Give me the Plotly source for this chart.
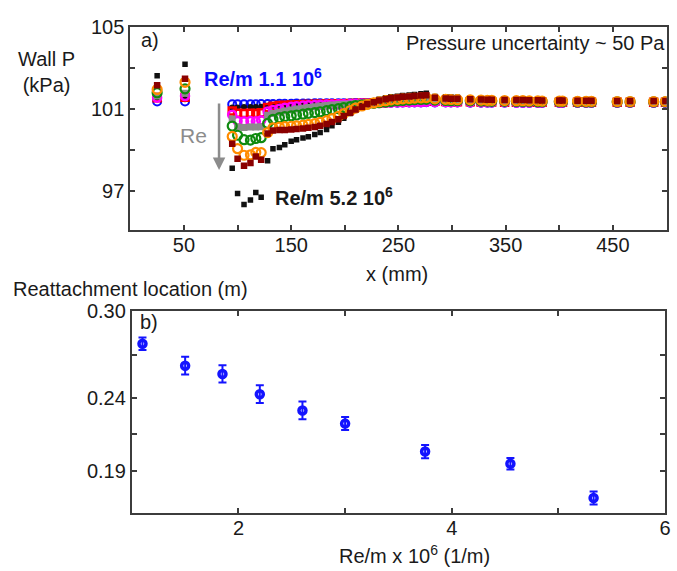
import plotly.graph_objects as go

# ---- panel a: wall pressure (kPa) vs x (mm) ----
x_up = [25, 51]
x_sep = [95, 100, 106, 112, 117, 122]
x_rec = [128, 133, 139, 144, 150, 155, 161, 166, 172, 177, 183, 188, 194, 199,
         205, 210, 216, 221, 227, 232, 238, 243, 249, 254, 260, 265, 271, 276]
x_down = [284, 294, 299, 305, 317, 327, 333, 337, 349, 360, 366, 372, 380, 384,
          400, 403, 417, 425, 430, 454, 466, 488, 499]
x_all = x_up + x_sep + x_rec + x_down

p_11 = ([101.37, 101.37] +
        [101.24, 101.24, 101.24, 101.24, 101.24, 101.25] +
        [101.25, 101.25, 101.26, 101.26, 101.26, 101.27, 101.27, 101.27, 101.28, 101.28,
         101.28, 101.28, 101.29, 101.29, 101.29, 101.3, 101.3, 101.3, 101.3, 101.31,
         101.31, 101.31, 101.31, 101.32, 101.32, 101.32, 101.32, 101.33] +
        [101.32, 101.32, 101.32, 101.32, 101.31, 101.31, 101.31, 101.31, 101.31, 101.3,
         101.3, 101.3, 101.3, 101.3, 101.3, 101.3, 101.3, 101.3, 101.3, 101.3,
         101.3, 101.3, 101.3])
p_15 = ([101.48, 101.48] +
        [101.08, 101.08, 101.1, 101.1, 101.1, 101.12] +
        [101.16, 101.2, 101.22, 101.23, 101.24, 101.25, 101.26, 101.27, 101.27, 101.28,
         101.28, 101.29, 101.29, 101.3, 101.3, 101.31, 101.31, 101.32, 101.33, 101.34,
         101.35, 101.37, 101.38, 101.4, 101.42, 101.43, 101.44, 101.45] +
        [101.42, 101.41, 101.4, 101.4, 101.39, 101.39, 101.38, 101.38, 101.37, 101.37,
         101.37, 101.36, 101.36, 101.36, 101.36, 101.35, 101.35, 101.35, 101.35, 101.35,
         101.35, 101.35, 101.35])
p_185 = ([101.55, 101.58] +
         [100.9, 100.8, 100.78, 100.8, 100.78, 100.82] +
         [101.08, 101.14, 101.17, 101.19, 101.2, 101.21, 101.22, 101.23, 101.24, 101.24,
          101.25, 101.25, 101.26, 101.26, 101.27, 101.27, 101.28, 101.29, 101.3, 101.31,
          101.32, 101.33, 101.34, 101.35, 101.36, 101.37, 101.38, 101.39] +
         [101.38, 101.37, 101.37, 101.36, 101.36, 101.35, 101.35, 101.35, 101.34, 101.34,
          101.34, 101.34, 101.33, 101.33, 101.33, 101.33, 101.33, 101.33, 101.33, 101.33,
          101.33, 101.33, 101.33])
p_22 = ([101.56, 101.64] +
        [100.72, 100.42, 100.4, 100.42, 100.4, 100.45] +
        [100.88, 100.96, 101.02, 101.07, 101.11, 101.14, 101.17, 101.19, 101.2, 101.21,
         101.22, 101.23, 101.24, 101.24, 101.25, 101.26, 101.27, 101.28, 101.29, 101.3,
         101.31, 101.32, 101.33, 101.33, 101.34, 101.35, 101.35, 101.36] +
        [101.35, 101.35, 101.34, 101.34, 101.34, 101.33, 101.33, 101.33, 101.33, 101.32,
         101.32, 101.32, 101.32, 101.32, 101.32, 101.32, 101.32, 101.32, 101.32, 101.32,
         101.32, 101.32, 101.32])
p_26 = ([101.64, 101.77] +
        [100.52, 100.14, 100.1, 100.12, 100.12, 100.14] +
        [100.7, 100.78, 100.84, 100.9, 100.95, 101.0, 101.04, 101.08, 101.12, 101.15,
         101.18, 101.2, 101.22, 101.24, 101.25, 101.27, 101.28, 101.3, 101.32, 101.34,
         101.36, 101.38, 101.4, 101.42, 101.43, 101.45, 101.46, 101.47] +
        [101.43, 101.41, 101.4, 101.4, 101.39, 101.38, 101.38, 101.37, 101.37, 101.36,
         101.36, 101.36, 101.35, 101.35, 101.35, 101.35, 101.34, 101.34, 101.34, 101.34,
         101.34, 101.34, 101.34])
p_30 = ([101.8, 101.99] +
        [100.17, 99.72, 99.5, 99.48, 99.56, 99.6] +
        [100.3, 100.5, 100.58, 100.63, 100.67, 100.71, 100.75, 100.79, 100.83, 100.87,
         100.92, 100.97, 101.02, 101.07, 101.12, 101.17, 101.21, 101.25, 101.28, 101.31,
         101.34, 101.37, 101.4, 101.42, 101.44, 101.46, 101.47, 101.48] +
        [101.44, 101.42, 101.41, 101.41, 101.4, 101.39, 101.39, 101.38, 101.38, 101.37,
         101.37, 101.37, 101.36, 101.36, 101.36, 101.36, 101.35, 101.35, 101.35, 101.35,
         101.35, 101.35, 101.35])
p_375 = ([101.96, 102.31] +
         [99.66, 99.06, 98.74, 98.76, 98.88, 98.87] +
         [99.85, 100.08, 100.12, 100.14, 100.16, 100.18, 100.21, 100.25, 100.29, 100.35,
          100.43, 100.53, 100.65, 100.78, 100.92, 101.05, 101.15, 101.23, 101.3, 101.36,
          101.41, 101.45, 101.48, 101.5, 101.52, 101.54, 101.55, 101.56] +
         [101.5, 101.48, 101.47, 101.46, 101.45, 101.44, 101.43, 101.43, 101.42, 101.41,
          101.41, 101.4, 101.4, 101.39, 101.39, 101.39, 101.38, 101.38, 101.38, 101.37,
          101.37, 101.37, 101.37])
p_45 = ([102.17, 102.49] +
        [99.3, 98.57, 98.23, 98.36, 98.68, 98.52] +
        [99.8, 99.95, 99.97, 99.98, 100.0, 100.03, 100.05, 100.08, 100.12, 100.18,
         100.27, 100.37, 100.5, 100.66, 100.82, 100.98, 101.12, 101.25, 101.34, 101.42,
         101.48, 101.53, 101.57, 101.6, 101.62, 101.64, 101.66, 101.68] +
        [101.55, 101.52, 101.5, 101.5, 101.48, 101.47, 101.46, 101.46, 101.45, 101.44,
         101.44, 101.43, 101.43, 101.42, 101.42, 101.42, 101.41, 101.41, 101.41, 101.4,
         101.4, 101.4, 101.4])
p_52 = ([102.63, 103.19] +
        [98.1, 96.87, 96.33, 96.55, 96.92, 96.68] +
        [98.47, 99.06, 99.12, 99.25, 99.42, 99.5, 99.58, 99.65, 99.75, 99.85,
         100.0, 100.18, 100.35, 100.55, 100.78, 100.98, 101.15, 101.27, 101.38, 101.48,
         101.55, 101.6, 101.63, 101.66, 101.69, 101.72, 101.75, 101.78] +
        [101.62, 101.6, 101.59, 101.58, 101.55, 101.52, 101.5, 101.5, 101.48, 101.46,
         101.46, 101.45, 101.44, 101.44, 101.42, 101.42, 101.41, 101.4, 101.4, 101.39,
         101.39, 101.39, 101.39])

# ---- panel b: reattachment location vs Re/m ----
re_m = [1.1, 1.5, 1.85, 2.2, 2.6, 3.0, 3.75, 4.55, 5.33]
x_reatt = [0.2776, 0.2625, 0.2568, 0.2428, 0.2316, 0.2225, 0.2032, 0.1948, 0.1711]
x_reatt_err = [0.0043, 0.0061, 0.0059, 0.0061, 0.0061, 0.0045, 0.0046, 0.0039, 0.0045]

FONT = "Arial, Liberation Sans, sans-serif"
FRAME = "#3c3c3c"

series = [
    (p_11, "#0a0aff", "circle-open", 8, 2),
    (p_15, "#111111", "circle", 6, 0),
    (p_185, "#ff0000", "square-open", 7, 2.5),
    (p_22, "#ff00ff", "circle-open", 8, 2.5),
    (p_26, "#8c8c8c", "square", 7, 0),
    (p_30, "#0f8a0f", "circle-open", 9, 2.2),
    (p_52, "#111111", "square", 5.5, 0),
    (p_375, "#ff8c00", "circle-open", 9, 2.2),
    (p_45, "#8b0000", "square", 6.5, 0),
]

fig = go.Figure()
for p, col, sym, size, lw in series:
    fig.add_trace(go.Scatter(
        x=x_all, y=p, mode="markers", xaxis="x", yaxis="y",
        marker=dict(symbol=sym, size=size, color=col,
                    line=dict(color=col, width=lw)),
        showlegend=False))

fig.add_trace(go.Scatter(
    x=re_m, y=x_reatt, mode="markers", xaxis="x2", yaxis="y2",
    marker=dict(symbol="circle-open", size=7, color="#1414ff",
                line=dict(color="#1414ff", width=3.5)),
    error_y=dict(type="data", array=x_reatt_err, color="#1414ff",
                 thickness=2, width=4),
    showlegend=False))

minor_ticks = dict(ticks="inside", ticklen=5, tickwidth=1.5, tickcolor=FRAME)
axis_common = dict(
    showline=True, linecolor=FRAME, linewidth=2, mirror="ticks",
    ticks="inside", ticklen=5, tickwidth=1.5, tickcolor=FRAME,
    showgrid=False, zeroline=False,
    tickfont=dict(family=FONT, size=20, color="#1a1a1a"),
)

fig.update_layout(
    width=677, height=571,
    margin=dict(l=0, r=0, t=0, b=0),
    paper_bgcolor="white", plot_bgcolor="white",
    font=dict(family=FONT, size=20, color="#1a1a1a"),
    xaxis=dict(axis_common, domain=[131.5 / 677, 672.5 / 677], range=[0, 500],
               tickvals=[50, 150, 250, 350, 450],
               minor=dict(minor_ticks, tickvals=[100, 200, 300, 400]),
               ticklabelstandoff=-4, anchor="y"),
    yaxis=dict(axis_common, domain=[1 - 223.3 / 571, 1 - 16.7 / 571], range=[95.08, 105],
               tickvals=[97, 101, 105],
               minor=dict(minor_ticks, tickvals=[99, 103]), anchor="x"),
    xaxis2=dict(axis_common, domain=[133 / 677, 671 / 677], range=[1, 6],
                tickvals=[2, 4, 6], ticklabelstandoff=-4,
                minor=dict(minor_ticks, tickvals=[3, 5]), anchor="y2"),
    yaxis2=dict(axis_common, domain=[1 - 512 / 571, 1 - 305.5 / 571],
                range=[0.1607, 0.3005],
                tickvals=[0.19, 0.24, 0.30], tickformat=".2f",
                minor=dict(minor_ticks, tickvals=[0.215, 0.27]), anchor="x2"),
)

def note(text, x, y, xanchor="center", color="#1a1a1a", size=20):
    fig.add_annotation(text=text, x=x / 677, y=1 - y / 571, xref="paper", yref="paper",
                       xanchor=xanchor, yanchor="middle", showarrow=False,
                       font=dict(family=FONT, size=size, color=color))

note("Wall P<br>(kPa)", 47, 62)
note("x (mm)", 401, 268)
note("Reattachment location (m)", 11, 283, xanchor="left")
note("Re/m x 10<sup>6</sup> (1/m)", 418, 554)
note("a)", 140, 30, xanchor="left")
note("b)", 139, 317, xanchor="left")
note("Pressure uncertainty ~ 50 Pa", 673, 33, xanchor="right")
note("<b>Re/m 1.1 10<sup>6</sup></b>", 204, 68, xanchor="left", color="#0a0aff")
note("<b>Re/m 5.2 10<sup>6</sup></b>", 275, 189, xanchor="left")
note("Re", 195, 127, color="#8c8c8c", size=21)

# gray Re arrow
fig.add_annotation(x=221 / 677, y=1 - 162 / 571, xref="paper", yref="paper",
                   ax=0, ay=-68, text="", showarrow=True, arrowhead=2,
                   arrowsize=1, arrowwidth=2.5, arrowcolor="#8c8c8c")

# pin the plot to the page corner so the whole 677x571 figure is in view
pin = ("document.body.style.margin='0';document.body.style.overflow='hidden';"
       "var d=document.getElementById('{plot_id}');"
       "d.style.position='absolute';d.style.left='0px';d.style.top='0px';")
fig.write_html("out.html", post_script=pin, config={"displayModeBar": False})
